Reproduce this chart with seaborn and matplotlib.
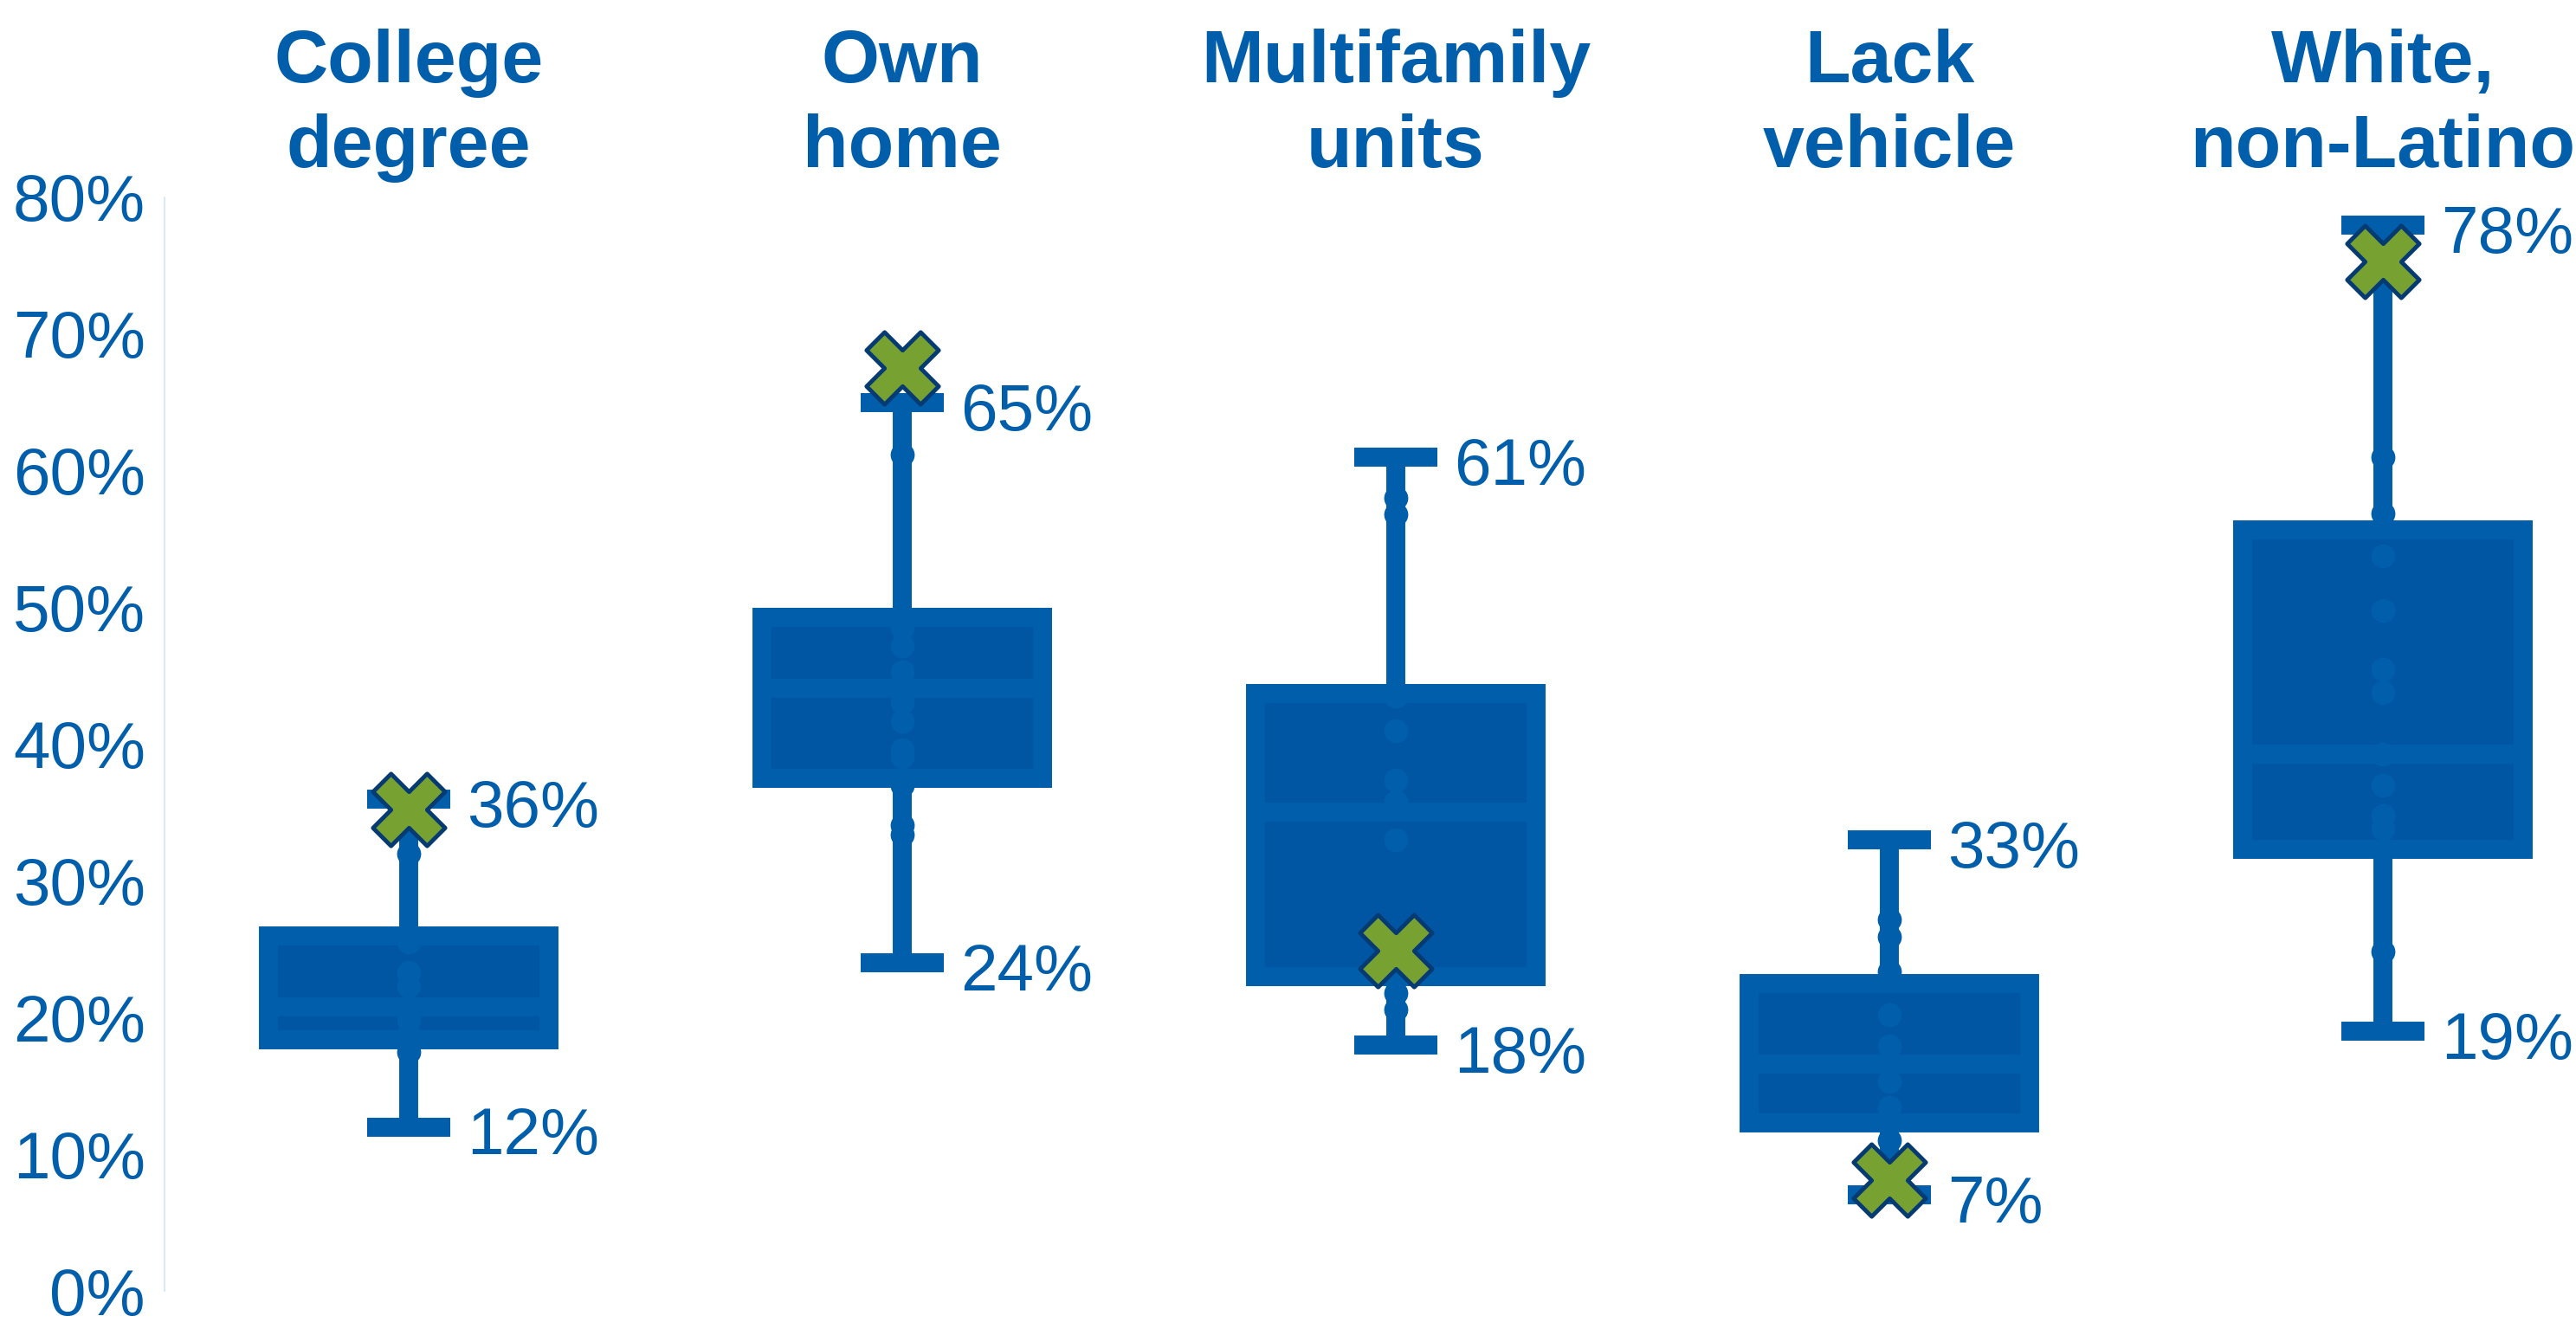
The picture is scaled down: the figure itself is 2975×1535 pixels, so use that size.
import matplotlib
matplotlib.use("Agg")
import matplotlib.pyplot as plt
import pandas as pd
import seaborn as sns

categories = ["College\ndegree", "Own\nhome", "Multifamily\nunits", "Lack\nvehicle", "White,\nnon-Latino"]

# Five-number summary per measure (percent)
whisker_low = [12, 24, 18, 7, 19]
q1 = [18.4, 37.5, 23.0, 12.3, 32.3]
median = [20.8, 44.1, 35.0, 16.6, 39.3]
q3 = [26.0, 49.3, 43.7, 22.5, 55.7]
whisker_high = [36, 65, 61, 33, 78]

# Individual area values (percent)
college_pts = [32.0, 25.5, 23.3, 22.3, 19.8, 18.8, 17.5]
home_pts = [61.2, 48.5, 47.2, 45.3, 43.1, 41.7, 39.6, 39.1, 37.0, 34.1, 33.4]
multifamily_pts = [58.0, 56.8, 43.5, 41.0, 37.4, 35.8, 33.0, 21.8, 20.6]
vehicle_pts = [27.2, 25.9, 23.4, 20.2, 17.9, 15.3, 13.4, 11.0]
white_pts = [61.0, 56.9, 53.8, 49.8, 45.5, 43.8, 39.3, 37.0, 34.8, 33.8, 24.8]

# Highlighted area (percent)
highlight = [35.2, 67.5, 24.9, 8.1, 75.3]

LINE = "#005EAB"
FILL = "#0056A3"
GREEN = "#77A232"
NAVY = "#063A73"
SPINE = "#DCE8F6"

sns.set_style("white")
plt.rcParams["font.family"] = ["Liberation Sans", "DejaVu Sans"]

# Long-form tables built from the arrays above
summary = pd.DataFrame(
    [(c, v) for c, lo, a, m, b, hi in zip(categories, whisker_low, q1, median, q3, whisker_high)
     for v in (lo, a, m, b, hi)],
    columns=["measure", "pct"],
)
points = pd.DataFrame(
    [(c, v) for c, pts in zip(categories, [college_pts, home_pts, multifamily_pts, vehicle_pts, white_pts])
     for v in pts],
    columns=["measure", "pct"],
)
marked = pd.DataFrame({"measure": categories, "pct": highlight})

W, H = 2975, 1535
fig = plt.figure(figsize=(W / 100, H / 100), dpi=100)
ax = fig.add_axes([190 / W, 44 / H, (W - 190) / W, 1263 / H])

lw = 15.8
sns.boxplot(
    data=summary, x="measure", y="pct", order=categories,
    whis=(0, 100), width=0.568, color=FILL, linecolor=LINE, linewidth=lw,
    saturation=1, showfliers=False, capwidths=0.17, ax=ax,
    boxprops=dict(joinstyle="miter"),
    whiskerprops=dict(solid_capstyle="butt"),
    capprops=dict(solid_capstyle="butt"),
    medianprops=dict(solid_capstyle="butt"),
)

sns.stripplot(
    data=points, x="measure", y="pct", order=categories, jitter=False,
    size=20, color=LINE, linewidth=0, ax=ax, zorder=3,
)

sns.stripplot(
    data=marked, x="measure", y="pct", order=categories, jitter=False,
    marker="X", size=60, color=GREEN, edgecolor=NAVY, linewidth=3.5, ax=ax, zorder=4,
)

# Whisker end labels
for i, (lo, hi) in enumerate(zip(whisker_low, whisker_high)):
    for v in (lo, hi):
        ax.annotate(f"{v}%", xy=(i, v), xytext=(48, -23), textcoords="offset points",
                    ha="left", va="baseline", fontsize=55, color=LINE)

ax.set_xlim((190 - 472) / 570, (W - 472) / 570)
ax.set_ylim(0, 80)
ax.set_yticks(range(0, 81, 10))
ax.set_yticklabels([f"{t}%" for t in range(0, 81, 10)])
ax.tick_params(axis="y", length=0, pad=16, labelsize=55, labelcolor=LINE)

ax.xaxis.tick_top()
ax.set_xticks(range(len(categories)))
ax.set_xticklabels(categories, fontsize=62, fontweight="bold", color=LINE, linespacing=1.3)
ax.tick_params(axis="x", length=0, pad=12)

ax.set_xlabel("")
ax.set_ylabel("")
for side in ("top", "right", "bottom"):
    ax.spines[side].set_visible(False)
ax.spines["left"].set_color(SPINE)
ax.spines["left"].set_linewidth(1.5)
ax.grid(False)

fig.savefig("out.png", dpi=100, facecolor="white")
